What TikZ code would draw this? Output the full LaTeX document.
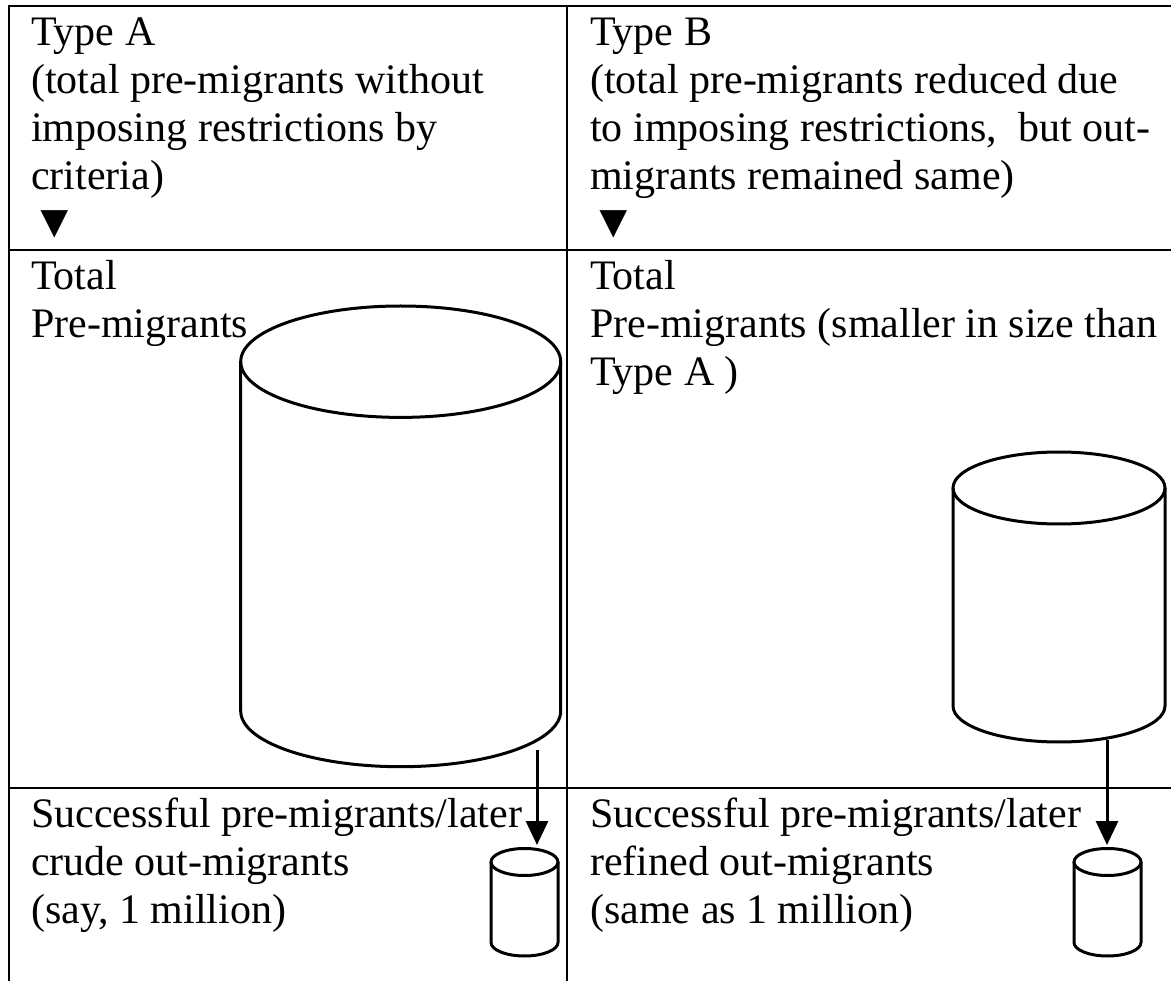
\documentclass[tikz,border=0pt]{standalone}
\usepackage{fontspec}
\setmainfont{Liberation Serif}
\usetikzlibrary{arrows.meta}
\newcommand{\tridown}{{\fontsize{47}{48}\selectfont ▼}}
\tikzset{
  grid/.style={line width=1.8pt, line cap=rect},
  cyl/.style={line width=3pt},
  txt/.style={anchor=base west, align=left, inner sep=0pt, font=\fontsize{42}{48}\selectfont},
  flow/.style={line width=3pt, -{Triangle[width=22pt,length=24pt]}}
}
\begin{document}
\begin{tikzpicture}[x=1pt,y=-1pt]
\useasboundingbox (0,0) rectangle (1171,981);
% table
\draw[grid] (9,981) -- (9,6) -- (1171,6);
\draw[grid] (9,250) -- (1171,250);
\draw[grid] (9,788) -- (1171,788);
\draw[grid] (567,6) -- (567,981);
% texts (anchored at the baseline of their last line)
\node[txt] (ta) at (31,238) {Type A\\(total pre-migrants without\\imposing restrictions by\\criteria)\\\tridown};
\node[txt] (tb) at (590,238) {Type B\\(total pre-migrants reduced due\\to imposing restrictions,\ \ but out-\\migrants remained same)\\\tridown};
\node[txt] (ma) at (31,338) {Total\\Pre-migrants};
\node[txt] (mb) at (590,386) {Total\\Pre-migrants (smaller in size than\\Type A )};
\node[txt] (ba) at (31,923) {Successful pre-migrants/later\\crude out-migrants\\(say, 1 million)};
\node[txt] (bb) at (590,923) {Successful pre-migrants/later\\refined out-migrants\\(same as 1 million)};
% big cylinder A
\draw[cyl] (400.7,361.7) ellipse [x radius=160, y radius=55.7];
\draw[cyl] (240.7,361.7) -- (240.7,711) arc[start angle=180, end angle=0, x radius=160, y radius=55.7] -- (560.7,361.7);
% big cylinder B
\draw[cyl] (1059,488) ellipse [x radius=106, y radius=36];
\draw[cyl] (953,488) -- (953,706) arc[start angle=180, end angle=0, x radius=106, y radius=36] -- (1165,488);
% small cylinder A
\draw[cyl] (524.5,862) ellipse [x radius=33.5, y radius=13.5];
\draw[cyl] (491,862) -- (491,942.5) arc[start angle=180, end angle=0, x radius=33.5, y radius=13.5] -- (558,862);
% small cylinder B
\draw[cyl] (1107.5,862) ellipse [x radius=33.5, y radius=13.5];
\draw[cyl] (1074,862) -- (1074,942.5) arc[start angle=180, end angle=0, x radius=33.5, y radius=13.5] -- (1141,862);
% arrows
\coordinate (a1) at (537,750);
\coordinate (a2) at (537,845);
\coordinate (b1) at (1107,740);
\coordinate (b2) at (1107,845);
\draw[flow] (a1) -- (a2);
\draw[flow] (b1) -- (b2);
\end{tikzpicture}
\end{document}
